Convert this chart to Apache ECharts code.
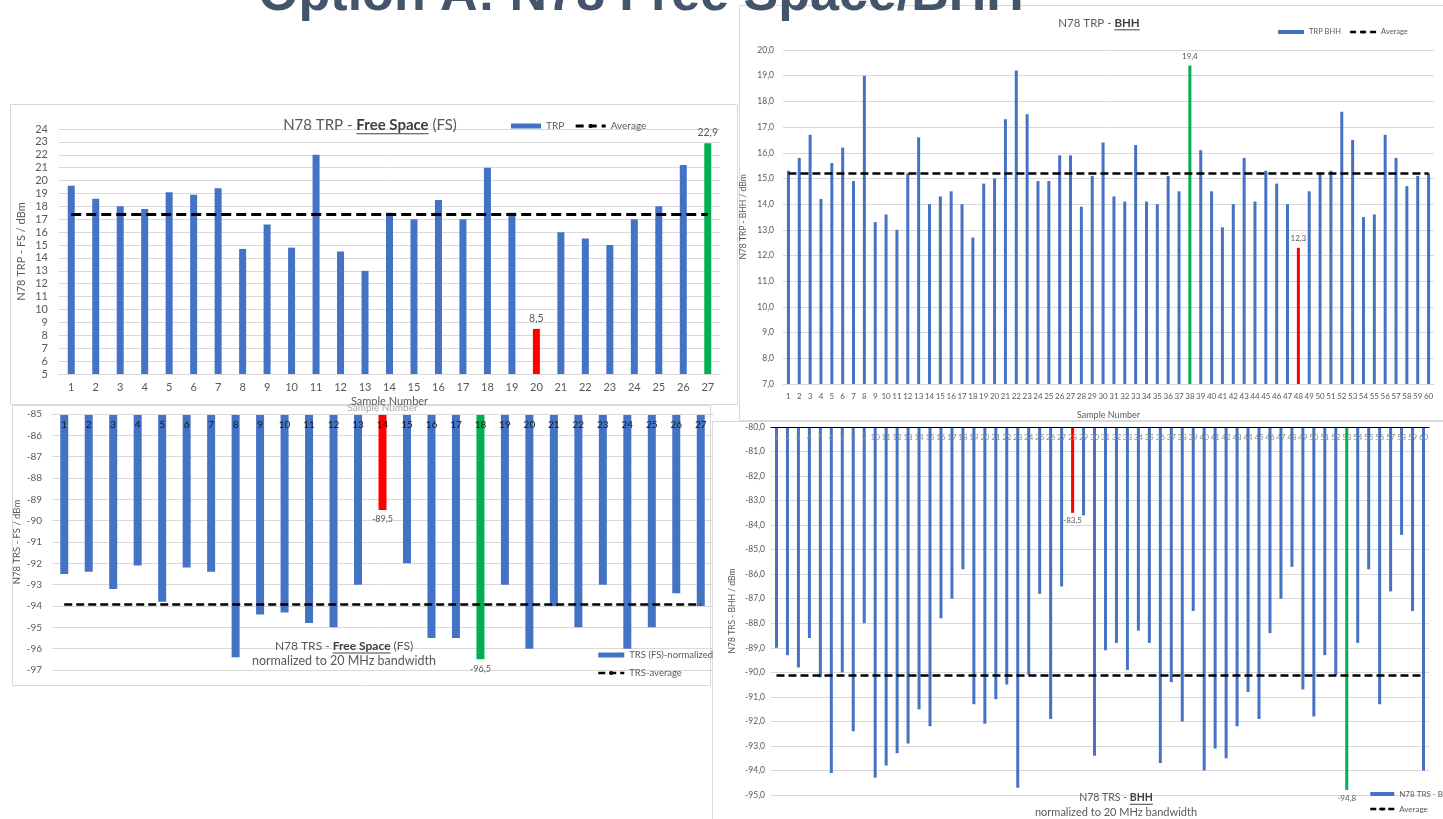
<!DOCTYPE html>
<html>
<head>
<meta charset="utf-8">
<title>Option A: N78 Free Space/BHH</title>
<script src="https://cdn.jsdelivr.net/npm/echarts@6/dist/echarts.min.js"></script>
<style>
  html, body { margin: 0; padding: 0; background: #fff; }
  #chart { width: 1443px; height: 819px; }
</style>
</head>
<body>
<div id="chart"></div>
<script>
// sample numbers
const fsSamples = ['1','2','3','4','5','6','7','8','9','10','11','12','13','14','15','16','17','18','19','20','21','22','23','24','25','26','27']
const bhhSamples = ['1','2','3','4','5','6','7','8','9','10','11','12','13','14','15','16','17','18','19','20',
  '21','22','23','24','25','26','27','28','29','30','31','32','33','34','35','36','37','38','39','40',
  '41','42','43','44','45','46','47','48','49','50','51','52','53','54','55','56','57','58','59','60']

// TRP free space (dBm)
const fsTrp = [19.6, 18.6, 18.0, 17.8, 19.1, 18.9, 19.4, 14.7, 16.6, 14.8, 22.0, 14.5, 13.0, 17.5,
  17.0, 18.5, 17.0, 21.0, 17.5, 8.5, 16.0, 15.5, 15.0, 17.0, 18.0, 21.2, 22.9]
const fsTrpAvg = 17.4

// TRP BHH (dBm)
const bhhTrp = [15.3, 15.8, 16.7, 14.2, 15.6, 16.2, 14.9, 19.0, 13.3, 13.6,
  13.0, 15.2, 16.6, 14.0, 14.3, 14.5, 14.0, 12.7, 14.8, 15.0,
  17.3, 19.2, 17.5, 14.9, 14.9, 15.9, 15.9, 13.9, 15.1, 16.4,
  14.3, 14.1, 16.3, 14.1, 14.0, 15.1, 14.5, 19.4, 16.1, 14.5,
  13.1, 14.0, 15.8, 14.1, 15.3, 14.8, 14.0, 12.3, 14.5, 15.2,
  15.3, 17.6, 16.5, 13.5, 13.6, 16.7, 15.8, 14.7, 15.1, 15.2]
const bhhTrpAvg = 15.2

// TRS free space, normalized to 20 MHz (dBm)
const fsTrs = [-92.5, -92.4, -93.2, -92.1, -93.8, -92.2, -92.4, -96.4, -94.4, -94.3, -94.8, -95.0, -93.0, -89.5,
  -92.0, -95.5, -95.5, -96.5, -93.0, -96.0, -94.0, -95.0, -93.0, -96.0, -95.0, -93.4, -94.0]
const fsTrsAvg = -93.9

// TRS BHH, normalized to 20 MHz (dBm)
const bhhTrs = [-89.0, -89.3, -89.8, -88.6, -90.2, -94.1, -90.0, -92.4, -88.0, -94.3,
  -93.8, -93.3, -92.9, -91.5, -92.2, -87.8, -87.0, -85.8, -91.3, -92.1,
  -91.1, -90.5, -94.7, -90.1, -86.8, -91.9, -86.5, -83.5, -83.6, -93.4,
  -89.1, -88.8, -89.9, -88.3, -88.8, -93.7, -90.4, -92.0, -87.5, -94.0,
  -93.1, -93.5, -92.2, -90.8, -91.9, -88.4, -87.0, -85.7, -90.7, -91.8,
  -89.3, -90.1, -94.8, -88.8, -85.8, -91.3, -86.7, -84.4, -87.5, -94.0]
const bhhTrsAvg = -90.1

const BLUE = '#4472C4'
const RED = '#FF0000'
const GREEN = '#00B050'
const GRAY = '#595959'
const GRID_LINE = '#D9D9D9'
const FONT = 'Lato, "Open Sans", sans-serif'

const comma = (v, d) => (d == null ? String(v) : v.toFixed(d)).replace('.', ',')

// best sample green, worst sample red
const highlight = (values, highIsGood) => {
  const hi = Math.max(...values)
  const lo = Math.min(...values)
  return {
    color: p => p.value === hi ? (highIsGood ? GREEN : RED) : p.value === lo ? (highIsGood ? RED : GREEN) : BLUE,
    label: p => (p.value === hi || p.value === lo) ? comma(p.value, 1) : ''
  }
}

// title made of plain / bold-underlined pieces
const measure = document.createElement('canvas').getContext('2d')
const titleText = (parts, cx, cy, size) => {
  const widths = parts.map(([t, b]) => {
    measure.font = (b ? 'bold ' : '') + size + 'px ' + FONT
    return measure.measureText(t).width
  })
  let x = cx - widths.reduce((a, b) => a + b, 0) / 2
  const els = []
  parts.forEach(([t, b], i) => {
    els.push({
      type: 'text', x: x, y: cy, z: 50,
      style: { text: t, fill: b ? '#404040' : GRAY, font: (b ? 'bold ' : '') + size + 'px ' + FONT, verticalAlign: 'middle' }
    })
    if (b) {
      els.push({ type: 'rect', z: 50, shape: { x: x, y: cy + size * 0.55, width: widths[i], height: 1 }, style: { fill: '#404040' } })
    }
    x += widths[i]
  })
  return els
}

const panel = (x, y, w, h) => ({
  type: 'rect', z: -10,
  shape: { x: x, y: y, width: w, height: h },
  style: { fill: '#fff', stroke: GRID_LINE, lineWidth: 1 }
})

const avgLine = (name, idx, cats, avg, width, dash) => ({
  type: 'line', name: name, xAxisIndex: idx, yAxisIndex: idx, data: [],
  symbol: 'none',
  itemStyle: { color: '#000' },
  lineStyle: { color: '#000', width: width, type: dash },
  markLine: {
    silent: true, symbol: 'none', label: { show: false },
    lineStyle: { color: '#000', width: width, type: dash },
    data: [[{ coord: [0, avg] }, { coord: [cats.length - 1, avg] }]]
  }
})

const fsTrpHl = highlight(fsTrp, true)
const bhhTrpHl = highlight(bhhTrp, true)
const fsTrsHl = highlight(fsTrs, false)
const bhhTrsHl = highlight(bhhTrs, false)

const chart = echarts.init(document.getElementById('chart'))

const option = {
  backgroundColor: '#fff',
  animation: false,
  textStyle: { fontFamily: FONT },
  grid: [
    { left: 59, top: 129, width: 661, height: 245 },
    { left: 783, top: 50, width: 651, height: 334 },
    { left: 52, top: 414, width: 661, height: 256 },
    { left: 771, top: 427, width: 658, height: 368 }
  ],
  xAxis: [
    {
      type: 'category', gridIndex: 0, data: fsSamples,
      axisTick: { show: false }, axisLine: { lineStyle: { color: GRID_LINE } },
      axisLabel: { color: GRAY, fontSize: 11, margin: 8, interval: 0 },
      name: 'Sample Number', nameLocation: 'middle', nameGap: 22,
      nameTextStyle: { color: GRAY, fontSize: 11 }
    },
    {
      type: 'category', gridIndex: 1, data: bhhSamples,
      axisTick: { show: false }, axisLine: { lineStyle: { color: GRID_LINE } },
      axisLabel: { color: GRAY, fontSize: 8, margin: 8, interval: 0 },
      name: 'Sample Number', nameLocation: 'middle', nameGap: 27,
      nameTextStyle: { color: GRAY, fontSize: 9 }
    },
    {
      type: 'category', gridIndex: 2, data: fsSamples, position: 'top', z: 10,
      axisTick: { show: false }, axisLine: { lineStyle: { color: GRID_LINE } },
      axisLabel: { inside: true, color: '#1a1a1a', fontSize: 10, margin: 6, interval: 0 },
      name: 'Sample Number', nameLocation: 'middle', nameGap: -3,
      nameTextStyle: { color: '#A6A6A6', fontSize: 10 }
    },
    {
      type: 'category', gridIndex: 3, data: bhhSamples, position: 'top', z: 10,
      axisTick: { show: false }, axisLine: { lineStyle: { color: '#000', width: 1.2 } },
      axisLabel: { inside: true, color: '#8c8c8c', fontSize: 8, margin: 6, interval: 0 }
    }
  ],
  yAxis: [
    {
      type: 'value', gridIndex: 0, min: 5, max: 24, interval: 1,
      splitLine: { lineStyle: { color: GRID_LINE } },
      axisLabel: { color: GRAY, fontSize: 11, margin: 11 },
      name: 'N78 TRP - FS / dBm', nameLocation: 'middle', nameGap: 32,
      nameTextStyle: { color: GRAY, fontSize: 11 }
    },
    {
      type: 'value', gridIndex: 1, min: 7, max: 20, interval: 1,
      splitLine: { lineStyle: { color: GRID_LINE } },
      axisLabel: { color: GRAY, fontSize: 8.5, margin: 9, formatter: v => comma(v, 1) },
      name: 'N78 TRP - BHH / dBm', nameLocation: 'middle', nameGap: 35,
      nameTextStyle: { color: GRAY, fontSize: 8.5 }
    },
    {
      type: 'value', gridIndex: 2, min: -97, max: -85, interval: 1,
      splitLine: { lineStyle: { color: GRID_LINE } },
      axisLabel: { color: GRAY, fontSize: 10, margin: 10 },
      name: 'N78 TRS - FS / dBm', nameLocation: 'middle', nameGap: 30,
      nameTextStyle: { color: GRAY, fontSize: 9.5 }
    },
    {
      type: 'value', gridIndex: 3, min: -95, max: -80, interval: 1,
      splitLine: { lineStyle: { color: GRID_LINE } },
      axisLabel: { color: GRAY, fontSize: 8.5, margin: 6, formatter: v => comma(v, 1) },
      name: 'N78 TRS - BHH / dBm', nameLocation: 'middle', nameGap: 34,
      nameTextStyle: { color: GRAY, fontSize: 8.5 }
    }
  ],
  legend: [
    {
      left: 511, top: 121, padding: 0, itemWidth: 30, itemHeight: 5, itemGap: 10,
      lineStyle: { type: [8, 5], width: 3 },
      textStyle: { color: GRAY, fontSize: 10 },
      data: [{ name: 'TRP', icon: 'rect', itemStyle: { color: BLUE } }, 'Average']
    },
    {
      left: 1278, top: 28, padding: 0, itemWidth: 26, itemHeight: 4, itemGap: 8,
      lineStyle: { type: [6, 4], width: 2.5 },
      textStyle: { color: GRAY, fontSize: 7.5 },
      data: [{ name: 'TRP BHH', icon: 'rect', itemStyle: { color: BLUE } }, 'Average']
    },
    {
      orient: 'vertical', left: 597, top: 650, padding: 0, itemWidth: 26, itemHeight: 5, itemGap: 8,
      lineStyle: { type: [7, 4], width: 2.5 },
      textStyle: { color: GRAY, fontSize: 9.5 },
      data: [{ name: 'TRS (FS)-normalized', icon: 'rect', itemStyle: { color: BLUE } }, 'TRS-average']
    },
    {
      orient: 'vertical', left: 1369, top: 790, padding: 0, itemWidth: 24, itemHeight: 4, itemGap: 7,
      lineStyle: { type: [6, 3], width: 2.5 },
      textStyle: { color: GRAY, fontSize: 8 },
      data: [{ name: 'N78 TRS - BHH', icon: 'rect', itemStyle: { color: BLUE } }, 'Average']
    }
  ],
  graphic: [
    panel(10.5, 104.5, 727, 300),
    panel(739.5, 5.5, 710, 415),
    panel(12.5, 405.5, 698, 280),
    panel(712.5, 421.5, 740, 400),
    ...titleText([['N78 TRP - ', false], ['Free Space', true], [' (FS)', false]], 370, 125, 15),
    ...titleText([['N78 TRP - ', false], ['BHH', true]], 1099, 23, 11.5),
    ...titleText([['N78 TRS - ', false], ['Free Space', true], [' (FS)', false]], 344, 646, 12),
    ...titleText([['normalized to 20 MHz bandwidth', false]], 344, 661, 12.5),
    ...titleText([['N78 TRS - ', false], ['BHH', true]], 1116, 798, 10.5),
    ...titleText([['normalized to 20 MHz bandwidth', false]], 1116, 812, 11),
    {
      type: 'text', x: 641, y: -4, z: 100,
      style: {
        text: 'Option A: N78 Free Space/BHH',
        font: 'bold 52px "Liberation Sans", Arial, sans-serif',
        fill: '#44546A', align: 'center', verticalAlign: 'middle'
      }
    }
  ],
  series: [
    {
      type: 'bar', name: 'TRP', xAxisIndex: 0, yAxisIndex: 0, data: fsTrp, barWidth: 7,
      itemStyle: { color: fsTrpHl.color },
      label: { show: true, position: 'top', distance: 5, color: GRAY, fontSize: 10.5, formatter: fsTrpHl.label }
    },
    avgLine('Average', 0, fsSamples, fsTrpAvg, 3, [10, 5]),
    {
      type: 'bar', name: 'TRP BHH', xAxisIndex: 1, yAxisIndex: 1, data: bhhTrp, barWidth: 3,
      itemStyle: { color: bhhTrpHl.color },
      label: { show: true, position: 'top', distance: 5, color: GRAY, fontSize: 8, formatter: bhhTrpHl.label }
    },
    avgLine('Average', 1, bhhSamples, bhhTrpAvg, 2.5, [8, 4]),
    {
      type: 'bar', name: 'TRS (FS)-normalized', xAxisIndex: 2, yAxisIndex: 2, data: fsTrs, barWidth: 8,
      itemStyle: { color: fsTrsHl.color },
      label: { show: true, position: 'bottom', distance: 5, color: GRAY, fontSize: 9, formatter: fsTrsHl.label }
    },
    avgLine('TRS-average', 2, fsSamples, fsTrsAvg, 2.5, [8, 4]),
    {
      type: 'bar', name: 'N78 TRS - BHH', xAxisIndex: 3, yAxisIndex: 3, data: bhhTrs, barWidth: 3,
      itemStyle: { color: bhhTrsHl.color },
      label: { show: true, position: 'bottom', distance: 4, color: GRAY, fontSize: 8, formatter: bhhTrsHl.label }
    },
    avgLine('Average', 3, bhhSamples, bhhTrsAvg, 2.5, [8, 4])
  ]
}

chart.setOption(option)
window.addEventListener('resize', () => chart.resize())
</script>
</body>
</html>
